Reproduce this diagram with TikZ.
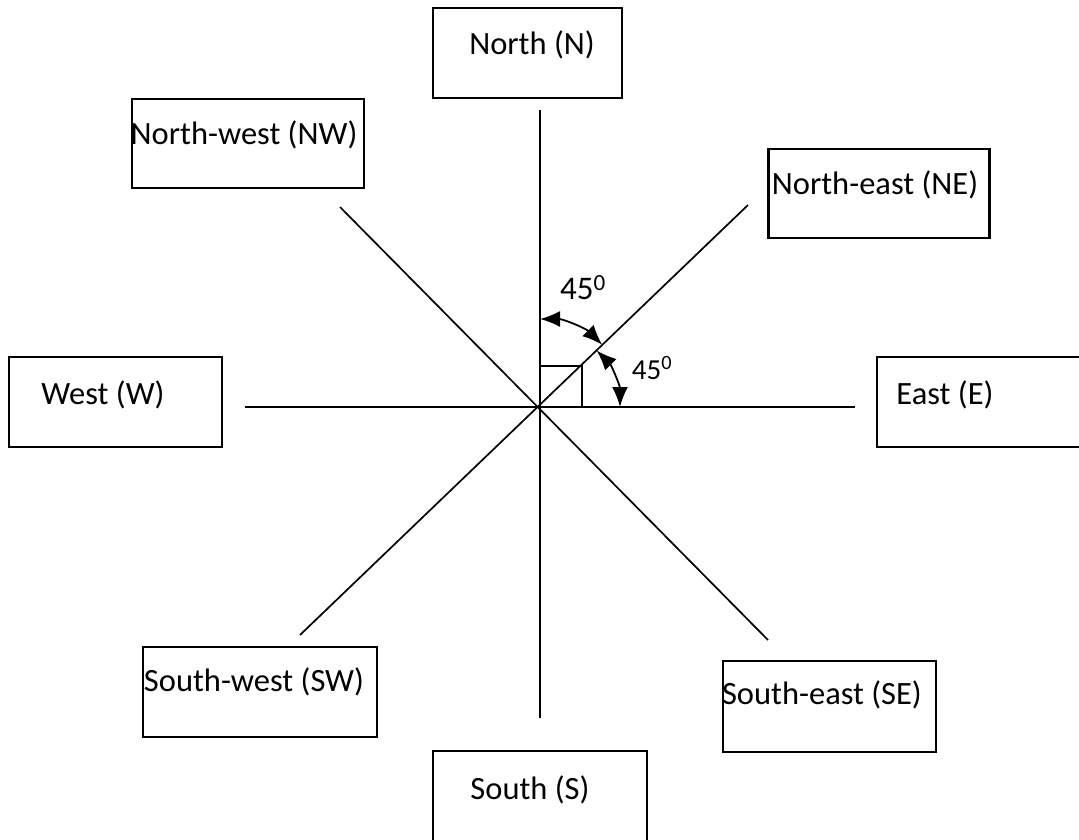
\documentclass[tikz,border=0pt]{standalone}
\usepackage{fontspec}
\setmainfont{Carlito}
\usetikzlibrary{arrows.meta}
\begin{document}
\begin{tikzpicture}[x=1pt,y=-1pt,
  box/.style={draw,line width=2.2pt,inner sep=0pt},
  lbl/.style={font=\fontsize{32.5}{38}\selectfont,inner sep=0pt},
  small/.style={font=\fontsize{29}{34}\selectfont,inner sep=0pt},
  axis/.style={line width=1.7pt},
  tipA/.tip={Latex[length=20pt,width=16pt]},
  ang/.style={line width=1.8pt,tipA-tipA}]
\clip (0,0) rectangle (1079,839);
\fill[white] (0,0) rectangle (1079,839);
% boxes
\node[box,minimum width=189pt,minimum height=90pt] (bN)  at (527.5,53) {};
\node[box,minimum width=232pt,minimum height=89pt] (bNW) at (248,143.5) {};
\node[box,minimum width=221pt,minimum height=89pt] (bNE) at (879,193.5) {};
\node[box,minimum width=213pt,minimum height=90pt] (bW)  at (115.5,402) {};
\node[box,minimum width=206pt,minimum height=90pt] (bE)  at (980,402) {};
\node[box,minimum width=234pt,minimum height=90pt] (bSW) at (260,692) {};
\node[box,minimum width=213pt,minimum height=91pt] (bSE) at (829.5,706.5) {};
\node[box,minimum width=214pt,minimum height=94pt] (bS)  at (540,798) {};
% texts
\node[lbl] (tN)  at (532,45)  {North (N)};
\node[lbl] (tNW) at (244,135) {North-west (NW)};
\node[lbl] (tNE) at (875,185) {North-east (NE)};
\node[lbl] (tW)  at (103,395) {West (W)};
\node[lbl] (tE)  at (945,395) {East (E)};
\node[lbl] (tSW) at (254,682) {South-west (SW)};
\node[lbl] (tSE) at (822,695) {South-east (SE)};
\node[lbl] (tS)  at (530,790) {South (S)};
% lines
\coordinate (O) at (540,407);
\coordinate (pN) at (540,110);
\coordinate (pS) at (540,718);
\coordinate (pW) at (245,407);
\coordinate (pE) at (855,407);
\coordinate (pNE) at (748,205);
\coordinate (pNW) at (340,207);
\coordinate (pSW) at (300,635);
\coordinate (pSE) at (768,640);
\draw[axis] (pN) -- (pS);
\draw[axis] (pW) -- (pE);
\draw[axis] (pNE) -- (pSW);
\draw[axis] (pNW) -- (pSE);
% right angle
\coordinate (q1) at (540,366);
\coordinate (q2) at (582,407);
\draw[axis] (q1) rectangle (q2);
% angle arcs
\draw[ang] ([shift={(-90:88)}]O) arc[start angle=-90,end angle=-45,radius=88];
\draw[ang] ([shift={(-45:80)}]O) arc[start angle=-45,end angle=0,radius=80];
\node[lbl,font=\fontsize{33}{38}\selectfont] (a1) at (583,288) {45\textsuperscript{0}};
\node[small] (a2) at (652,368) {45\textsuperscript{0}};
\end{tikzpicture}
\end{document}
